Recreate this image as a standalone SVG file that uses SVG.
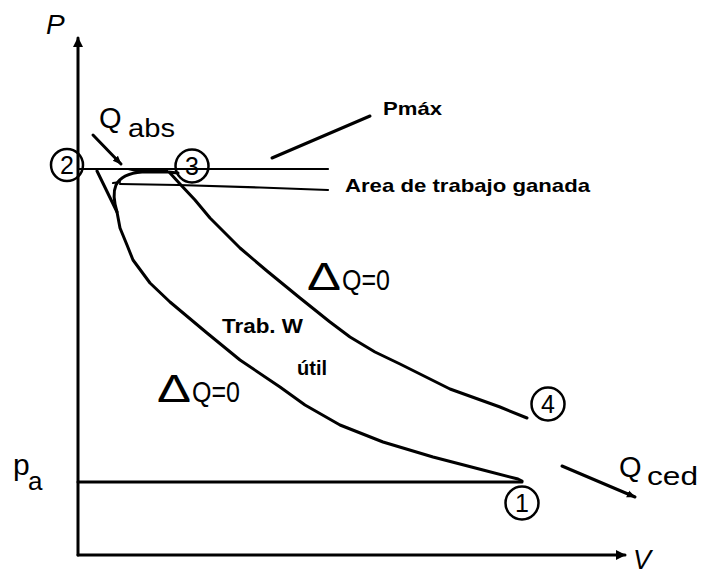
<svg xmlns="http://www.w3.org/2000/svg" width="701" height="575" viewBox="0 0 701 575">
<defs>
<style>
.ln{fill:none;stroke:#000;stroke-width:3;stroke-linejoin:round;stroke-linecap:round}
.thin{fill:none;stroke:#000;stroke-width:2.2;stroke-linecap:round}
.cir{fill:#fff;stroke:#000;stroke-width:2.5}
.num{font-family:"Liberation Sans",Arial,sans-serif;font-size:25px;text-anchor:middle;fill:#000}
.lbl{font-family:"Liberation Sans",Arial,sans-serif;fill:#000}
.b{font-family:"Liberation Sans",Arial,sans-serif;font-weight:bold;fill:#000}
.dl{font-family:"Liberation Sans",Arial,sans-serif;font-size:38px;fill:#000}
</style>
<marker id="ah" viewBox="0 0 10 10" refX="9" refY="5" markerWidth="10" markerHeight="10" markerUnits="userSpaceOnUse" orient="auto">
<path d="M0,0 L10,5 L0,10 Z" fill="#000"/>
</marker>
<marker id="sh" viewBox="0 0 10 10" refX="9" refY="5" markerWidth="9" markerHeight="9" markerUnits="userSpaceOnUse" orient="auto">
<path d="M0,1 L10,5 L0,9 Z" fill="#000"/>
</marker>
</defs>
<rect width="701" height="575" fill="#fff"/>

<g id="connectors">
<path class="ln" d="M78,555 L78,38" marker-end="url(#ah)"/>
<path class="ln" d="M78,555 L625,555" marker-end="url(#ah)"/>
<path class="ln" d="M78,482 L522,482"/>
<path class="thin" d="M78,169 L328,169"/>
<path class="thin" d="M120,184 L178,185 L260,187.5 L328,190"/>
<polyline class="ln" points="522,481 518,479 483,470 433,457 383,442 340,425 305,405 280,387 240,360 207,333 170,302 150,283 133,260 127,245 120,228 117,212 97,171"/>
<path class="ln" d="M117,212 C114,202 113,192 116,185 C120,177 130,173 142,172 L168,172 L178,173"/>
<path class="thin" d="M113,183 L120,182"/>
<path d="M124,169 L168,169 L168,173 L140,173 Z" fill="#000"/>
<polyline class="ln" points="170,173 180,184 195,200 210,218 240,248 267,271 300,298 330,322 350,337 375,352 400,364 450,389 500,407 527,418"/>
<path class="ln" d="M272,158 L370,116"/>
<path class="ln" d="M93,135 L121,164" marker-end="url(#sh)"/>
<path class="ln" d="M562,466 L635,497" marker-end="url(#sh)"/>
</g>

<g id="node1"><circle class="cir" cx="522" cy="503" r="16.5"/><text class="num" x="522" y="512">1</text></g>
<g id="node2"><circle class="cir" cx="67" cy="165" r="16" style="fill:none"/><text class="num" x="67" y="174">2</text></g>
<g id="node3"><circle class="cir" cx="192" cy="166" r="16.5" style="fill:none"/><text class="num" x="192" y="175">3</text></g>
<g id="node4"><circle class="cir" cx="548" cy="404" r="16.5"/><text class="num" x="548" y="413">4</text></g>

<g id="labels">
<text class="lbl" x="46" y="34" font-size="28" font-style="italic">P</text>
<text class="lbl" x="633" y="569" font-size="27" font-style="italic">V</text>
<text class="lbl" x="99" y="128" font-size="29">Q</text>
<text class="lbl" x="128" y="137" font-size="26" textLength="47" lengthAdjust="spacingAndGlyphs">abs</text>
<text class="lbl" x="619" y="477" font-size="29">Q</text>
<text class="lbl" x="647" y="485" font-size="26" textLength="51" lengthAdjust="spacingAndGlyphs">ced</text>
<text class="lbl" x="13" y="475" font-size="30">p</text>
<text class="lbl" x="28" y="490" font-size="26">a</text>
<text class="b" x="383" y="115" font-size="19" textLength="59" lengthAdjust="spacingAndGlyphs">Pmáx</text>
<text class="b" x="345" y="192" font-size="19" textLength="245" lengthAdjust="spacingAndGlyphs">Area de trabajo ganada</text>
<text class="b" x="222" y="333" font-size="20" textLength="81" lengthAdjust="spacingAndGlyphs">Trab. W</text>
<text class="b" x="297" y="375" font-size="20">útil</text>
<text class="dl" x="307" y="290" textLength="34" lengthAdjust="spacingAndGlyphs">Δ</text>
<text class="lbl" x="342" y="290" font-size="30" textLength="48" lengthAdjust="spacingAndGlyphs">Q=0</text>
<text class="dl" x="157" y="402" textLength="34" lengthAdjust="spacingAndGlyphs">Δ</text>
<text class="lbl" x="192" y="402" font-size="30" textLength="48" lengthAdjust="spacingAndGlyphs">Q=0</text>
</g>
</svg>
